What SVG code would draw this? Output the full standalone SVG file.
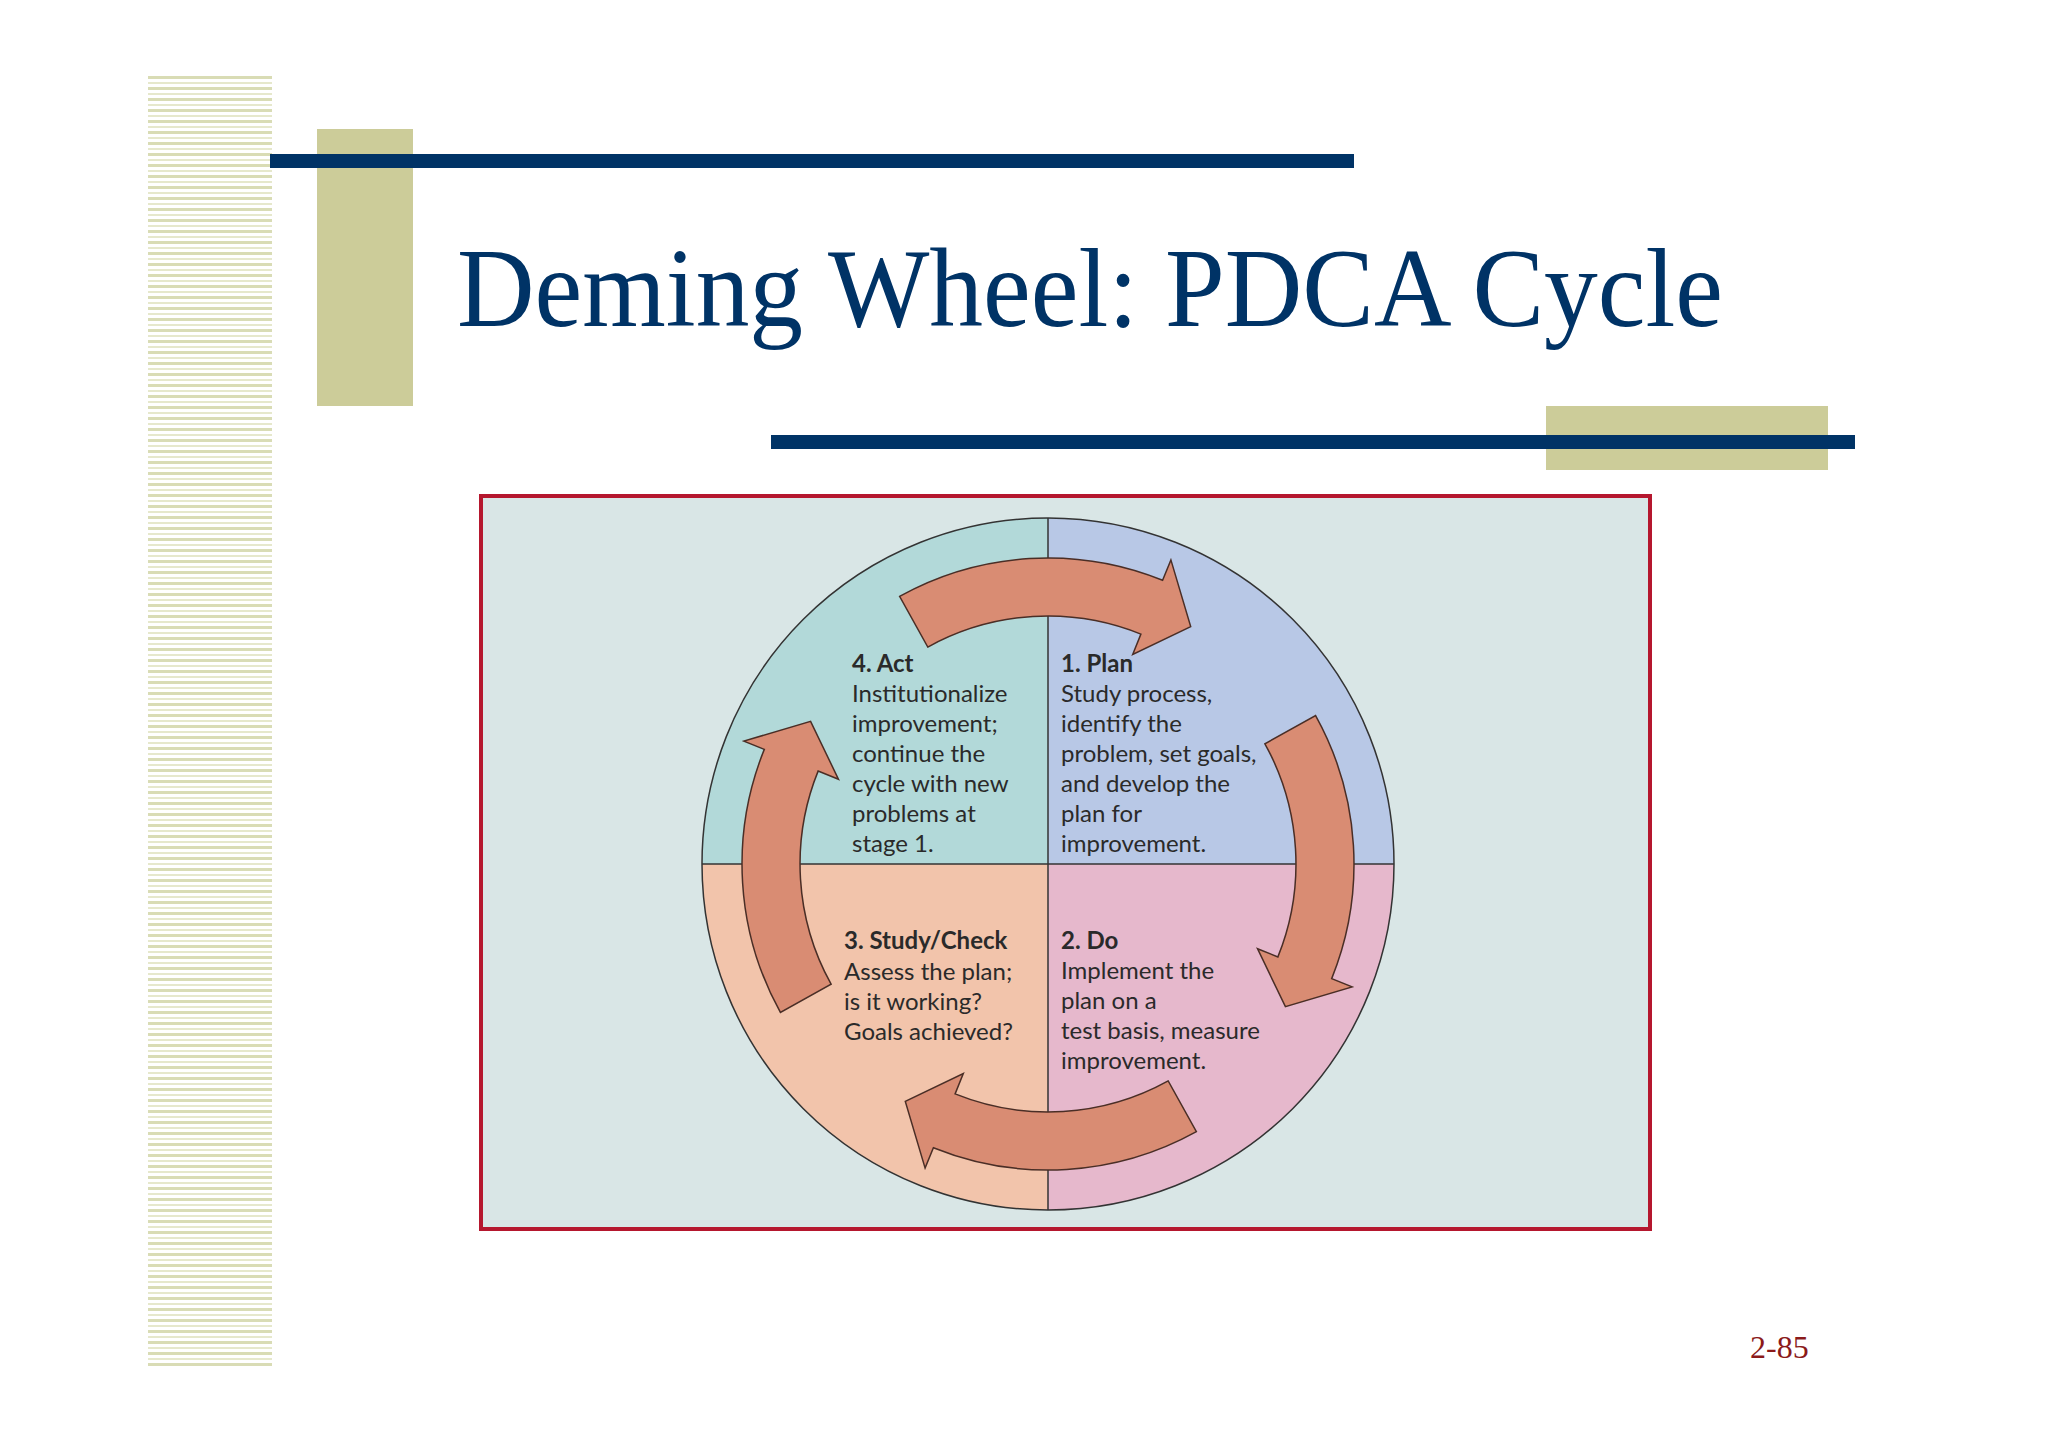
<svg xmlns="http://www.w3.org/2000/svg" width="2048" height="1447" viewBox="0 0 2048 1447">
<defs>
<style>
.t{font-family:"Lato","Open Sans",sans-serif;font-size:24px;fill:#2a2a2a}
.h{font-weight:bold}
.arr{fill:#d98c73;stroke:#4a2e26;stroke-width:1.5}
</style>
<pattern id="stripes" x="0" y="76" width="124" height="11" patternUnits="userSpaceOnUse">
<rect x="0" y="0" width="124" height="3" fill="#d9dcb5"/>
<rect x="0" y="6" width="124" height="2" fill="#e6e8cc"/>
</pattern>
<path id="arrow" class="arr" d="M899.6,596.4 A306,306 0 0 1 1162.6,580.3 L1170.9,559.9 L1190.7,626.6 L1132.7,654.5 L1140.9,634.1 A248,248 0 0 0 927.8,647.1 Z"/>
</defs>
<rect width="2048" height="1447" fill="#ffffff"/>
<g id="decor">
<rect x="148" y="76" width="124" height="1293" fill="url(#stripes)"/>
<rect x="317" y="129" width="96" height="277" fill="#cccc99"/>
<rect x="270" y="154" width="1084" height="14" fill="#003366"/>
<rect x="1546" y="406" width="282" height="64" fill="#cccc99"/>
<rect x="771" y="435" width="1084" height="14" fill="#003366"/>
</g>
<text id="title" x="457" y="326" font-family="Liberation Serif, serif" font-size="112" fill="#003366" textLength="1266" lengthAdjust="spacingAndGlyphs">Deming Wheel: PDCA Cycle</text>
<g id="frame">
<rect x="481" y="496" width="1169" height="733" fill="#d9e6e6" stroke="#b5172e" stroke-width="4"/>
</g>
<g id="wheel">
<path d="M1048,864 L1048,518 A346,346 0 0 0 702,864 Z" fill="#b2d9d9"/>
<path d="M1048,864 L1048,518 A346,346 0 0 1 1394,864 Z" fill="#b8c8e6"/>
<path d="M1048,864 L702,864 A346,346 0 0 0 1048,1210 Z" fill="#f2c4ab"/>
<path d="M1048,864 L1394,864 A346,346 0 0 1 1048,1210 Z" fill="#e6b8cc"/>
<circle cx="1048" cy="864" r="346" fill="none" stroke="#333" stroke-width="1.5"/>
<line x1="1048" y1="518" x2="1048" y2="1210" stroke="#333" stroke-width="1.5"/>
<line x1="702" y1="864" x2="1394" y2="864" stroke="#333" stroke-width="1.5"/>
</g>
<g id="connectors">
<use href="#arrow"/>
<use href="#arrow" transform="rotate(90 1048 864)"/>
<use href="#arrow" transform="rotate(180 1048 864)"/>
<use href="#arrow" transform="rotate(270 1048 864)"/>
</g>
<g id="act">
<text class="t" x="852" y="672"><tspan class="h">4. Act</tspan><tspan x="852" dy="30">Institutionalize</tspan><tspan x="852" dy="30">improvement;</tspan><tspan x="852" dy="30">continue the</tspan><tspan x="852" dy="30">cycle with new</tspan><tspan x="852" dy="30">problems at</tspan><tspan x="852" dy="30">stage 1.</tspan></text>
</g>
<g id="plan">
<text class="t" x="1061" y="672"><tspan class="h">1. Plan</tspan><tspan x="1061" dy="30">Study process,</tspan><tspan x="1061" dy="30">identify the</tspan><tspan x="1061" dy="30">problem, set goals,</tspan><tspan x="1061" dy="30">and develop the</tspan><tspan x="1061" dy="30">plan for</tspan><tspan x="1061" dy="30">improvement.</tspan></text>
</g>
<g id="check">
<text class="t" x="844" y="949"><tspan class="h">3. Study/Check</tspan><tspan x="844" dy="31">Assess the plan;</tspan><tspan x="844" dy="30">is it working?</tspan><tspan x="844" dy="30">Goals achieved?</tspan></text>
</g>
<g id="do">
<text class="t" x="1061" y="949"><tspan class="h">2. Do</tspan><tspan x="1061" dy="30">Implement the</tspan><tspan x="1061" dy="30">plan on a</tspan><tspan x="1061" dy="30">test basis, measure</tspan><tspan x="1061" dy="30">improvement.</tspan></text>
</g>
<text id="page" x="1750" y="1358" font-family="Liberation Serif, serif" font-size="32" fill="#8b1a1a">2-85</text>
</svg>
